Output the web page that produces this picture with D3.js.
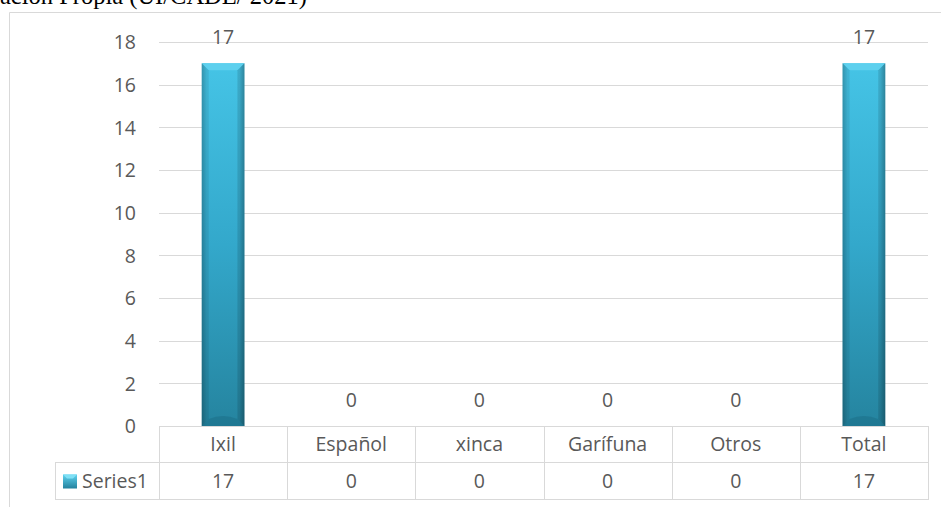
<!DOCTYPE html>
<html><head><meta charset="utf-8">
<script src="https://cdn.jsdelivr.net/npm/d3@7"></script>
<style>body{margin:0;background:#fff;}svg{display:block;}</style>
</head><body>
<svg id="c" width="941" height="507"></svg>
<script>
const categories = ["Ixil","Español","xinca","Garífuna","Otros","Total"];
const values = [17,0,0,0,0,17];
const seriesName = "Series1";
const yTicks = [0,2,4,6,8,10,12,14,16,18];
const sourceText = "ación Propia (UI/CADE/ 2021)";

(function(){
const svg = d3.select("#c");
const W = 941, H = 507;
const pL = 159, pR = 928, pT = 42, pB = 426;
const rowH = 37;
const fs = 19.5;
const txt = "#595959", grid = "#d9d9d9", font = "'Open Sans', 'Noto Sans', sans-serif";

const defs = svg.append("defs");
const g1 = defs.append("linearGradient").attr("id","barG").attr("x1",0).attr("y1",0).attr("x2",0).attr("y2",1);
g1.append("stop").attr("offset","0%").attr("stop-color","#45c4e6");
g1.append("stop").attr("offset","50%").attr("stop-color","#33a8cb");
g1.append("stop").attr("offset","100%").attr("stop-color","#25849f");
const g2 = defs.append("linearGradient").attr("id","sideG").attr("x1",0).attr("y1",0).attr("x2",1).attr("y2",0);
g2.append("stop").attr("offset","0%").attr("stop-color","#000").attr("stop-opacity",0.18);
g2.append("stop").attr("offset","12%").attr("stop-color","#000").attr("stop-opacity",0);
g2.append("stop").attr("offset","88%").attr("stop-color","#000").attr("stop-opacity",0);
g2.append("stop").attr("offset","100%").attr("stop-color","#000").attr("stop-opacity",0.22);
const g3 = defs.append("linearGradient").attr("id","keyG").attr("x1",0).attr("y1",0).attr("x2",0).attr("y2",1);
g3.append("stop").attr("offset","0%").attr("stop-color","#5fd3ef");
g3.append("stop").attr("offset","100%").attr("stop-color","#23819d");

svg.append("text").attr("x",0).attr("y",4).attr("font-family","'Liberation Serif', 'Times New Roman', serif")
  .attr("font-size",24.5).attr("fill","#000").text(sourceText);

svg.append("path").attr("d",`M9.5,${H} V12.5 H${W}`).attr("fill","none").attr("stroke","#d9d9d9").attr("stroke-width",1);

const x = d3.scaleBand().domain(categories).range([pL,pR]).paddingInner(0).paddingOuter(0);
const y = d3.scaleLinear().domain([0,18]).range([pB,pT]);

svg.append("g").selectAll("line").data(yTicks.filter(d=>d>0)).join("line")
  .attr("x1",pL).attr("x2",pR).attr("y1",d=>Math.round(y(d))+0.5).attr("y2",d=>Math.round(y(d))+0.5)
  .attr("stroke",grid).attr("stroke-width",1);

const yAxis = d3.axisLeft(y).tickValues(yTicks).tickSize(0).tickPadding(0);
const ya = svg.append("g").attr("transform",`translate(${136},0)`).call(yAxis);
ya.select(".domain").remove();
ya.selectAll("text").attr("font-family",font).attr("font-size",fs).attr("fill",txt).attr("dy","0.35em");

const bw = x.bandwidth()/3;
const bars = svg.append("g").selectAll("g").data(categories.map((c,i)=>({c,v:values[i]})).filter(d=>d.v>0)).join("g");
bars.each(function(d){
  const gg = d3.select(this);
  const x0 = x(d.c) + (x.bandwidth()-bw)/2, y0 = y(d.v), h = y(0)-y(d.v);
  gg.append("rect").attr("x",x0).attr("y",y0).attr("width",bw).attr("height",h).attr("fill","url(#barG)");
  gg.append("rect").attr("x",x0).attr("y",y0).attr("width",bw).attr("height",h).attr("fill","url(#sideG)");
  const b = 7;
  gg.append("path").attr("d",`M${x0},${y0} H${x0+bw} L${x0+bw-b},${y0+b} H${x0+b} Z`).attr("fill","#5dd0ee");
  gg.append("path").attr("d",`M${x0},${y0} L${x0+b},${y0+b} V${y0+h-b} L${x0},${y0+h} Z`).attr("fill","#000").attr("opacity",0.08);
  gg.append("path").attr("d",`M${x0+bw},${y0} L${x0+bw-b},${y0+b} V${y0+h-b} L${x0+bw},${y0+h} Z`).attr("fill","#000").attr("opacity",0.12);
  gg.append("path").attr("d",`M${x0},${y0+h} L${x0+b},${y0+h-b} Q${x0+bw/2},${y0+h-b-6} ${x0+bw-b},${y0+h-b} L${x0+bw},${y0+h} Z`).attr("fill","#1c6f88").attr("opacity",0.55);
});

svg.append("g").selectAll("text").data(categories.map((c,i)=>({c,v:values[i]}))).join("text")
  .attr("x",d=>x(d.c)+x.bandwidth()/2).attr("y",d=>y(d.v)-19)
  .attr("text-anchor","middle").attr("font-family",font).attr("font-size",fs).attr("fill",txt).text(d=>d.v);

const tg = svg.append("g").attr("stroke","#d9d9d9").attr("fill","none");
const legL = 55;
tg.append("line").attr("x1",pL).attr("x2",pR).attr("y1",pB+0.5).attr("y2",pB+0.5);
tg.append("line").attr("x1",legL).attr("x2",pR).attr("y1",pB+rowH-0.5).attr("y2",pB+rowH-0.5);
tg.append("line").attr("x1",legL).attr("x2",pR).attr("y1",pB+2*rowH-0.5).attr("y2",pB+2*rowH-0.5);
tg.append("line").attr("x1",legL+0.5).attr("x2",legL+0.5).attr("y1",pB+rowH).attr("y2",pB+2*rowH);
tg.selectAll("line.v").data(categories.concat(["__end"])).join("line").attr("class","v")
  .attr("x1",(d,i)=>Math.round(pL + i*x.bandwidth())+0.5).attr("x2",(d,i)=>Math.round(pL + i*x.bandwidth())+0.5)
  .attr("y1",pB).attr("y2",pB+2*rowH);

svg.append("g").selectAll("text").data(categories).join("text")
  .attr("x",d=>x(d)+x.bandwidth()/2).attr("y",pB+rowH/2).attr("dy","0.35em")
  .attr("text-anchor","middle").attr("font-family",font).attr("font-size",fs).attr("fill",txt).text(d=>d);
svg.append("g").selectAll("text").data(values).join("text")
  .attr("x",(d,i)=>x(categories[i])+x.bandwidth()/2).attr("y",pB+rowH*1.5).attr("dy","0.35em")
  .attr("text-anchor","middle").attr("font-family",font).attr("font-size",fs).attr("fill",txt).text(d=>d);

svg.append("rect").attr("x",63).attr("y",pB+rowH*1.5-7).attr("width",14).attr("height",14).attr("fill","url(#keyG)");
svg.append("path").attr("d",`M63,${pB+rowH*1.5-7} h14 l-4,4 h-6 Z`).attr("fill","#7fe0f5");
svg.append("text").attr("x",82).attr("y",pB+rowH*1.5).attr("dy","0.35em")
  .attr("font-family",font).attr("font-size",fs).attr("fill",txt).text(seriesName);
})();
</script>
</body></html>
